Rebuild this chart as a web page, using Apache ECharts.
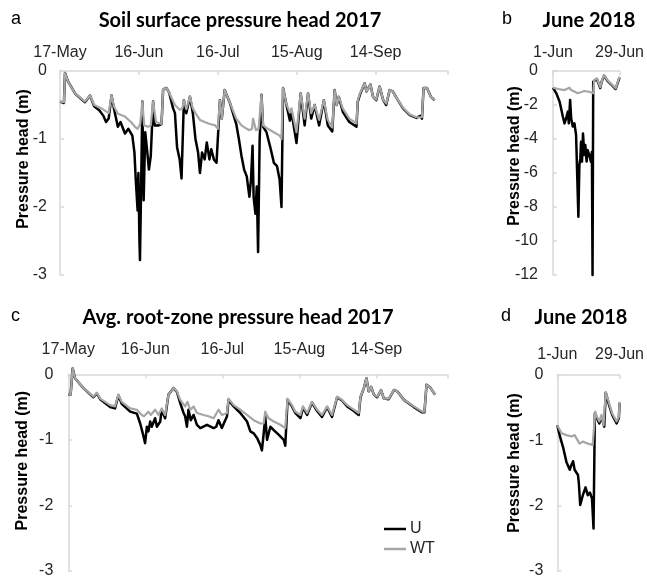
<!DOCTYPE html>
<html>
<head>
<meta charset="utf-8">
<script src="https://cdn.jsdelivr.net/npm/echarts@6/dist/echarts.min.js"></script>
<style>
html,body{margin:0;padding:0;background:#fff;}
#chart{width:647px;height:579px;}
</style>
</head>
<body>
<div id="chart"></div>
<script>
// ---- Tick labels ----
const seasonTicks = ['17-May', '16-Jun', '16-Jul', '15-Aug', '14-Sep'];
const juneTicks = ['1-Jun', '29-Jun'];

// ---- Panel a: soil surface pressure head 2017 [day since 17-May, m] ----
const surfU2017 = [[0,-0.45],[1.5,-0.47],[1.9,-0.03],[3,-0.15],[5.7,-0.33],[9.5,-0.46],[11.4,-0.36],[13,-0.52],[15,-0.58],[16.5,-0.66],[17.5,-0.75],[18.5,-0.7],[19.6,-0.36],[20.5,-0.55],[22,-0.82],[23,-0.75],[24.7,-0.92],[26,-0.85],[27.5,-0.95],[28.3,-1.2],[28.8,-1.6],[29.5,-2.05],[29.8,-1.5],[30.2,-2.5],[30.4,-2.78],[30.8,-1.8],[31.3,-0.45],[31.8,-1.9],[32.4,-0.9],[33.2,-1.2],[33.8,-1.45],[34.5,-1.25],[35.4,-0.45],[36,-0.8],[37.5,-0.8],[38.6,-0.78],[39.2,-0.27],[40.5,-0.25],[41.5,-0.32],[43,-0.55],[43.7,-0.62],[44.5,-1.12],[45.5,-1.3],[46.2,-1.58],[47.1,-0.43],[48,-0.62],[49.4,-0.38],[50.5,-0.62],[51.5,-1.0],[52.5,-1.2],[53.2,-1.5],[54,-1.2],[55,-1.3],[55.8,-1.05],[56.8,-1.3],[57.5,-1.15],[58.5,-1.3],[59.5,-1.35],[60.8,-0.43],[61.5,-0.7],[62.6,-0.28],[64.6,-0.47],[67,-0.78],[68,-1.0],[69,-1.25],[70,-1.45],[71,-1.55],[72,-1.85],[72.6,-1.6],[73.2,-1.1],[73.6,-1.85],[74.3,-2.1],[74.8,-1.7],[75.3,-2.66],[75.9,-1.0],[76.6,-0.35],[77.2,-0.82],[78.5,-0.9],[80,-1.13],[81.3,-1.35],[82.5,-1.4],[83.5,-1.6],[84.2,-2.0],[84.8,-0.25],[86,-0.48],[87.4,-0.73],[88,-0.6],[89.9,-1.06],[91.5,-0.33],[93,-0.8],[94.3,-0.33],[95.5,-0.7],[96.8,-0.5],[98.5,-0.8],[100.3,-0.43],[101.8,-0.8],[103.5,-0.89],[104.4,-0.28],[105.2,-0.5],[106,-0.38],[107.5,-0.6],[110,-0.75],[112.7,-0.82],[113.2,-0.45],[114,-0.35],[115.8,-0.18],[116.5,-0.3],[118,-0.2],[119,-0.38],[120.2,-0.43],[121.5,-0.23],[122.8,-0.42],[124,-0.5],[125.3,-0.28],[126.5,-0.3],[128,-0.4],[130.4,-0.55],[133,-0.65],[135.5,-0.69],[137,-0.66],[137.6,-0.7],[138.2,-0.25],[139.5,-0.25],[141,-0.38],[142.4,-0.43]];
const surfWT2017 = [[0,-0.45],[1.5,-0.46],[1.9,-0.03],[3,-0.15],[5.7,-0.33],[9.5,-0.45],[11.4,-0.36],[13,-0.5],[15.8,-0.55],[18.5,-0.62],[19.6,-0.36],[20.5,-0.52],[22,-0.63],[24.7,-0.67],[27,-0.75],[28.5,-0.82],[29.5,-0.85],[30.5,-0.78],[31.3,-0.45],[32,-0.8],[33.5,-0.82],[34.5,-0.8],[35.4,-0.45],[36.5,-0.75],[38.6,-0.78],[39.2,-0.27],[40.5,-0.25],[41.5,-0.32],[43.7,-0.5],[45.5,-0.57],[46.5,-0.55],[47.1,-0.43],[48,-0.56],[49.4,-0.38],[50.5,-0.55],[52,-0.65],[53.2,-0.72],[55,-0.75],[57,-0.78],[59,-0.8],[60,-0.85],[60.8,-0.43],[61.5,-0.7],[62.6,-0.28],[64.6,-0.47],[67,-0.7],[69,-0.8],[71,-0.85],[72,-0.87],[73,-0.85],[73.4,-0.7],[74.5,-0.87],[75.5,-0.85],[76.6,-0.35],[77.2,-0.8],[79,-0.85],[81.3,-0.9],[83.5,-0.95],[84.2,-1.0],[84.8,-0.25],[86,-0.48],[87.4,-0.61],[88,-0.55],[89.9,-0.9],[91.5,-0.33],[93,-0.7],[94.3,-0.33],[95.5,-0.62],[96.8,-0.5],[98.5,-0.72],[100.3,-0.43],[101.8,-0.72],[103.5,-0.83],[104.4,-0.28],[105.2,-0.5],[106,-0.38],[107.5,-0.55],[110,-0.7],[112.7,-0.77],[113.2,-0.43],[114,-0.33],[115.8,-0.18],[116.5,-0.3],[118,-0.2],[119,-0.38],[120.2,-0.42],[121.5,-0.23],[122.8,-0.42],[124,-0.48],[125.3,-0.28],[126.5,-0.3],[128,-0.4],[130.4,-0.54],[133,-0.64],[135.5,-0.68],[137.6,-0.68],[138.2,-0.25],[139.5,-0.25],[141,-0.38],[142.4,-0.43]];

// ---- Panel b: soil surface June 2018 [day since 1-Jun, m] ----
const surfU2018 = [[0,-0.98],[1.39,-1.31],[2.77,-1.8],[4.16,-2.69],[4.85,-3.08],[5.55,-2.78],[6.24,-2.39],[6.66,-3.08],[7.21,-1.7],[7.63,-2.78],[8.32,-3.27],[9.02,-3.08],[9.71,-3.76],[10.12,-3.67],[10.68,-8.57],[11.1,-5.53],[11.51,-5.14],[11.79,-4.16],[12.2,-5.33],[12.62,-3.67],[13.18,-4.94],[13.59,-4.35],[14.15,-5.33],[14.56,-4.65],[15.26,-4.94],[15.95,-5.33],[16.37,-4.75],[16.64,-12],[16.92,-0.63],[17.34,-0.53],[18.45,-0.47],[19.9,-1.0],[20.5,-0.62],[21.5,-0.27],[23,-0.6],[25,-0.86],[26.35,-1.06],[27.05,-0.98],[28,-0.39]];
const surfWT2018 = [[0,-0.98],[2.08,-1.06],[4.85,-1.12],[6.93,-0.98],[7.63,-1.12],[10.4,-1.31],[11.1,-1.22],[13.18,-1.18],[15.26,-1.22],[16.92,-1.31],[17.34,-0.53],[18.45,-0.43],[19.9,-0.95],[20.5,-0.6],[21.5,-0.24],[23,-0.55],[25,-0.82],[26.35,-1.02],[27.05,-0.95],[28,-0.33]];

// ---- Panel c: avg. root-zone pressure head 2017 ----
const rootU2017 = [[0,-0.31],[0.9,-0.31],[1.7,0.09],[2.6,-0.06],[5.9,-0.21],[9.8,-0.35],[11.1,-0.29],[12.4,-0.38],[16.3,-0.5],[18.2,-0.52],[19.5,-0.32],[20.8,-0.45],[24.1,-0.57],[26.7,-0.6],[28,-0.75],[29,-0.9],[29.9,-1.05],[30.6,-0.8],[31.2,-0.87],[31.9,-0.72],[32.5,-0.8],[33.8,-0.67],[34.5,-0.8],[35.8,-0.72],[36.4,-0.54],[37.7,-0.67],[39,-0.31],[41,-0.21],[42.3,-0.27],[43.6,-0.44],[44.9,-0.59],[45.5,-0.64],[46.2,-0.8],[46.8,-0.54],[47.7,-0.7],[48.8,-0.62],[50.1,-0.77],[51.4,-0.82],[54,-0.77],[56.6,-0.82],[57.6,-0.8],[58.5,-0.7],[59.8,-0.82],[61.8,-0.64],[62.4,-0.39],[64.4,-0.49],[67,-0.59],[69.6,-0.72],[70.9,-0.87],[72.2,-0.9],[73.5,-0.97],[74.8,-1.08],[75.4,-1.16],[76.1,-0.9],[76.7,-0.64],[77.4,-1.0],[78.7,-0.8],[80,-0.85],[81.9,-0.92],[83.9,-1.0],[84.5,-1.09],[85.4,-0.39],[87.1,-0.49],[88.4,-0.59],[90.4,-0.67],[91.4,-0.51],[93,-0.62],[94.9,-0.43],[96.9,-0.56],[98.8,-0.65],[100.8,-0.5],[102.7,-0.65],[104.7,-0.35],[106.6,-0.4],[107.3,-0.38],[108.6,-0.49],[111.2,-0.56],[113.1,-0.62],[113.8,-0.35],[115.1,-0.21],[116.1,-0.06],[117,-0.26],[117.9,-0.19],[119,-0.31],[120.3,-0.35],[121.8,-0.24],[122.9,-0.37],[124.8,-0.38],[126.8,-0.24],[128.1,-0.26],[130.7,-0.39],[134.6,-0.5],[137.8,-0.58],[138.7,-0.58],[139.5,-0.16],[141.1,-0.21],[142.8,-0.31]];
const rootWT2017 = [[0,-0.31],[0.9,-0.31],[1.7,0.09],[2.6,-0.06],[5.9,-0.21],[9.8,-0.34],[11.1,-0.28],[12.4,-0.37],[16.3,-0.47],[18.2,-0.49],[19.5,-0.31],[20.8,-0.42],[24.1,-0.52],[26.7,-0.54],[28.6,-0.62],[29.5,-0.64],[31.2,-0.57],[32.1,-0.62],[33.8,-0.54],[35.1,-0.62],[36.4,-0.52],[37.7,-0.62],[39,-0.31],[41,-0.21],[42.3,-0.26],[43.6,-0.39],[45.5,-0.49],[46.4,-0.42],[47.5,-0.54],[48.8,-0.49],[50.1,-0.59],[52.7,-0.62],[54.6,-0.64],[56.6,-0.67],[58.5,-0.54],[59.8,-0.62],[61.8,-0.59],[62.4,-0.37],[64.4,-0.47],[67,-0.54],[69.6,-0.62],[72.2,-0.7],[74.8,-0.75],[76.1,-0.75],[76.7,-0.57],[78,-0.67],[80,-0.72],[82.6,-0.77],[84.5,-0.82],[85.4,-0.37],[87.1,-0.47],[88.4,-0.57],[90.4,-0.62],[91.4,-0.49],[93,-0.59],[94.9,-0.42],[96.9,-0.54],[98.8,-0.62],[100.8,-0.49],[102.7,-0.62],[104.7,-0.34],[106.6,-0.39],[107.3,-0.37],[108.6,-0.47],[111.2,-0.54],[113.1,-0.59],[113.8,-0.34],[115.1,-0.21],[116.1,-0.06],[117,-0.26],[117.9,-0.19],[119,-0.31],[120.3,-0.34],[121.8,-0.24],[122.9,-0.37],[124.8,-0.37],[126.8,-0.24],[128.1,-0.26],[130.7,-0.39],[134.6,-0.49],[137.8,-0.57],[138.7,-0.57],[139.5,-0.16],[141.1,-0.21],[142.8,-0.31]];

// ---- Panel d: root-zone June 2018 ----
const rootU2018 = [[0,-0.77],[1.2,-0.94],[2.7,-1.12],[4.1,-1.33],[5.6,-1.45],[6.3,-1.38],[7.1,-1.32],[7.8,-1.45],[8.5,-1.43],[9.3,-1.53],[9.7,-1.66],[10.3,-1.99],[11.5,-1.84],[12.7,-1.72],[13.7,-1.84],[14.7,-1.8],[15.6,-1.89],[16.3,-2.35],[16.9,-0.59],[17.8,-0.66],[18.9,-0.74],[19.9,-0.64],[21.1,-0.79],[21.8,-0.27],[23.3,-0.46],[24.7,-0.61],[26.7,-0.74],[27.7,-0.66],[28,-0.43]];
const rootWT2018 = [[0,-0.77],[1.9,-0.89],[4.1,-0.92],[6.3,-0.94],[7.8,-0.92],[10,-1.05],[11.5,-1.02],[13.7,-1.05],[15.9,-1.07],[16.6,-1.1],[17.1,-0.56],[17.8,-0.64],[18.9,-0.71],[19.9,-0.61],[20.8,-0.77],[21.8,-0.26],[23.3,-0.43],[24.7,-0.59],[26.7,-0.71],[27.7,-0.64],[28,-0.41]];

const AXC = '#d9d9d9';
const LBL = '#262626';
const SANS = '"Liberation Sans", Arial, sans-serif';
const TITLEF = 'Lato, "Open Sans", sans-serif';

function xAx(idx, max, step, labels, margin) {
  return {
    gridIndex: idx, type: 'value', position: 'top', min: 0, max: max, interval: step,
    axisLine: { show: true, onZero: false, lineStyle: { color: AXC, width: 1.5 } },
    axisTick: { show: true, inside: true, length: 4, lineStyle: { color: AXC, width: 1.5 } },
    axisLabel: { show: true, margin: margin, fontSize: 16, color: LBL, fontFamily: SANS, showMaxLabel: true, hideOverlap: false,
      formatter: v => { const i = Math.round(v / step); return (Math.abs(v - i * step) < 1e-6 && labels[i]) ? labels[i] : ''; } },
    splitLine: { show: false }
  };
}
function yAx(idx, min, step, margin, gap, shift) {
  return {
    gridIndex: idx, type: 'value', min: min, max: 0, interval: step,
    axisLine: { show: true, onZero: false, lineStyle: { color: AXC, width: 1.5 } },
    axisTick: { show: true, inside: true, length: 4, lineStyle: { color: AXC, width: 1.5 } },
    axisLabel: { margin: margin, fontSize: 16, color: LBL, fontFamily: SANS },
    splitLine: { show: false },
    name: 'Pressure head (m)', nameLocation: 'middle', nameGap: gap, nameMoveOverlap: false,
    nameTextStyle: { fontSize: 16, fontWeight: 'bold', color: '#000', fontFamily: SANS, padding: [0, 0, 0, shift] }
  };
}
function ser(name, data, idx, color, width) {
  return { name: name, type: 'line', data: data, xAxisIndex: idx, yAxisIndex: idx,
    showSymbol: false, symbol: 'none', clip: false, animation: false,
    lineStyle: { color: color, width: width, join: 'round' }, itemStyle: { color: color } };
}
const BLK = '#000000', GRY = '#a6a6a6';

const chart = echarts.init(document.getElementById('chart'), null, { renderer: 'canvas' });
chart.setOption({
  animation: false,
  backgroundColor: '#fff',
  title: [
    { text: 'Soil surface pressure head 2017', left: 240, top: 11, textAlign: 'center', padding: 0,
      textStyle: { fontFamily: TITLEF, fontWeight: 'bold', fontSize: 20, color: '#000' } },
    { text: 'June 2018', left: 589, top: 11, textAlign: 'center', padding: 0,
      textStyle: { fontFamily: TITLEF, fontWeight: 'bold', fontSize: 20, color: '#000' } },
    { text: 'Avg. root-zone pressure head 2017', left: 238, top: 308, textAlign: 'center', padding: 0,
      textStyle: { fontFamily: TITLEF, fontWeight: 'bold', fontSize: 20, color: '#000' } },
    { text: 'June 2018', left: 581, top: 308, textAlign: 'center', padding: 0,
      textStyle: { fontFamily: TITLEF, fontWeight: 'bold', fontSize: 20, color: '#000' } },
    { text: 'a', left: 11, top: 10, padding: 0, textStyle: { fontFamily: SANS, fontWeight: 'normal', fontSize: 18, color: '#000' } },
    { text: 'b', left: 502, top: 10, padding: 0, textStyle: { fontFamily: SANS, fontWeight: 'normal', fontSize: 18, color: '#000' } },
    { text: 'c', left: 11, top: 307, padding: 0, textStyle: { fontFamily: SANS, fontWeight: 'normal', fontSize: 18, color: '#000' } },
    { text: 'd', left: 501, top: 307, padding: 0, textStyle: { fontFamily: SANS, fontWeight: 'normal', fontSize: 18, color: '#000' } }
  ],
  legend: {
    data: ['U', 'WT'], orient: 'vertical', left: 384, top: 521, itemWidth: 22, itemHeight: 2.5, icon: 'rect',
    itemGap: 4, padding: 0, textStyle: { fontSize: 16, color: LBL, fontFamily: SANS, padding: [0, 0, 0, -1] }
  },
  grid: [
    { left: 60, top: 71, width: 388, height: 204 },
    { left: 553, top: 71, width: 67.3, height: 204 },
    { left: 68.3, top: 374.3, width: 379, height: 196.7 },
    { left: 557.3, top: 375, width: 63.4, height: 196 }
  ],
  xAxis: [
    xAx(0, 147.5, 30, seasonTicks, 10),
    xAx(1, 28, 28, juneTicks, 10),
    xAx(2, 147.6, 30, seasonTicks, 17),
    xAx(3, 28, 28, juneTicks, 12)
  ],
  yAxis: [
    yAx(0, -3, 1, 13, 28, 28),
    yAx(1, -12, 2, 15, 30, 34),
    yAx(2, -3, 1, 15, 38, 24),
    yAx(3, -3, 1, 14, 35, 20)
  ],
  series: [
    ser('U', surfU2017, 0, BLK, 2.5), ser('WT', surfWT2017, 0, GRY, 2.2),
    ser('U', surfU2018, 1, BLK, 2.5), ser('WT', surfWT2018, 1, GRY, 2.2),
    ser('U', rootU2017, 2, BLK, 2.5), ser('WT', rootWT2017, 2, GRY, 2.2),
    ser('U', rootU2018, 3, BLK, 2.5), ser('WT', rootWT2018, 3, GRY, 2.2)
  ]
});
</script>
</body>
</html>
